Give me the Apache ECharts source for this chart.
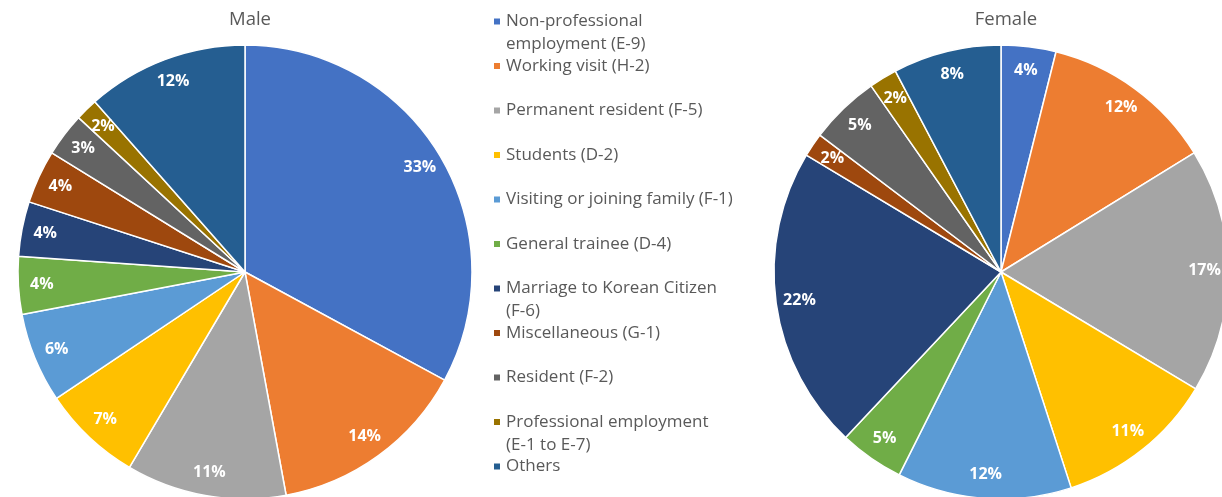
<!DOCTYPE html>
<html>
<head>
<meta charset="utf-8">
<script src="https://cdn.jsdelivr.net/npm/echarts@6/dist/echarts.min.js"></script>
<style>
html,body{margin:0;padding:0;background:#fff;}
#chart{width:1222px;height:497px;}
</style>
</head>
<body>
<div id="chart"></div>
<script>
const categories = [
  'Non-professional employment (E-9)',
  'Working visit (H-2)',
  'Permanent resident (F-5)',
  'Students (D-2)',
  'Visiting or joining family (F-1)',
  'General trainee (D-4)',
  'Marriage to Korean Citizen (F-6)',
  'Miscellaneous (G-1)',
  'Resident (F-2)',
  'Professional employment (E-1 to E-7)',
  'Others'
];
// legend display text (line breaks as in the reference)
const legendText = [
  'Non-professional\nemployment (E-9)',
  'Working visit (H-2)',
  'Permanent resident (F-5)',
  'Students (D-2)',
  'Visiting or joining family (F-1)',
  'General trainee (D-4)',
  'Marriage to Korean Citizen\n(F-6)',
  'Miscellaneous (G-1)',
  'Resident (F-2)',
  'Professional employment\n(E-1 to E-7)',
  'Others'
];
const maleValues   = [32.9, 14.2, 11.4, 7.1, 6.4, 4.1, 3.9, 3.8, 3.1, 1.6, 11.5];
const femaleValues = [3.9, 12.3, 17.4, 11.4, 12.4, 4.6, 21.6, 1.7, 5.0, 2.0, 7.7];
const colors = ['#4472C4','#ED7D31','#A5A5A5','#FFC000','#5B9BD5','#70AD47','#264478','#9E480E','#636363','#997300','#255E91'];

const FONT = 'Open Sans';
const R = 227;
const centers = { male: [245, 272], female: [1001, 272] };

function mainSeries(name, values, center) {
  return {
    type: 'pie', name: name, center: center, radius: [0, R],
    startAngle: 90, clockwise: true, silent: true,
    label: { show: false }, labelLine: { show: false },
    itemStyle: { borderColor: '#ffffff', borderWidth: 1.5 },
    data: categories.map((c, i) => ({ name: c, value: values[i], itemStyle: { color: colors[i] } }))
  };
}
function labelSeries(name, values, center) {
  return {
    type: 'pie', name: name + ' labels', center: center, radius: [R - 53, R],
    startAngle: 90, clockwise: true, silent: true, avoidLabelOverlap: false,
    label: {
      show: true, position: 'inside', color: '#ffffff', fontWeight: 'bold',
      fontSize: 16, fontFamily: FONT,
      formatter: p => Math.round(p.percent) + '%'
    },
    labelLine: { show: false },
    itemStyle: { color: 'rgba(0,0,0,0)', borderWidth: 0 },
    data: categories.map((c, i) => ({ name: c, value: values[i] }))
  };
}

const LH = 23;
const legends = categories.map((c, i) => {
  const txt = legendText[i];
  const multi = txt.indexOf('\n') >= 0;
  const shown = multi ? ' \n' + txt : txt;
  const lines = shown.split('\n').length;
  const iconC = 21.5 + i * 44.5;
  return {
    orient: 'vertical', left: 492, top: iconC - lines * LH / 2,
    padding: 0, selectedMode: false,
    icon: 'rect', itemWidth: 8, itemHeight: 8, itemGap: 0,
    data: [c],
    formatter: () => shown,
    textStyle: { fontSize: 17, color: '#595959', fontFamily: FONT, lineHeight: LH }
  };
});

const option = {
  backgroundColor: '#ffffff',
  animation: false,
  title: [
    { text: 'Male', left: 245, top: 5, textAlign: 'center',
      textStyle: { fontSize: 18.5, fontWeight: 'normal', color: '#595959', fontFamily: FONT } },
    { text: 'Female', left: 1001, top: 5, textAlign: 'center',
      textStyle: { fontSize: 18.5, fontWeight: 'normal', color: '#595959', fontFamily: FONT } }
  ],
  legend: legends,
  series: [
    mainSeries('Male', maleValues, centers.male),
    mainSeries('Female', femaleValues, centers.female),
    labelSeries('Male', maleValues, centers.male),
    labelSeries('Female', femaleValues, centers.female)
  ]
};
const chart = echarts.init(document.getElementById('chart'));
chart.setOption(option);
</script>
</body>
</html>
